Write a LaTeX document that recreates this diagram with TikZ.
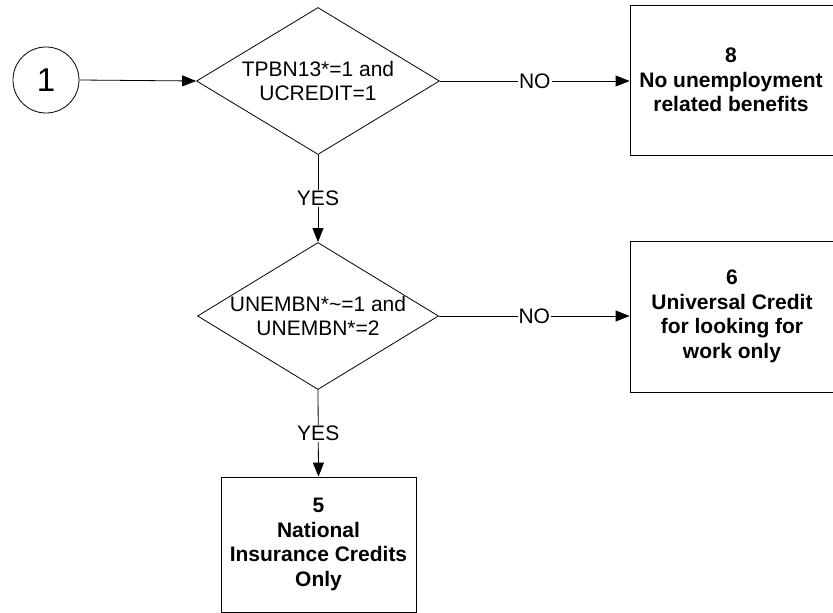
\documentclass[tikz,border=0pt]{standalone}
\usepackage{fontspec}
\setmainfont{Liberation Sans}
\usetikzlibrary{shapes.geometric,arrows.meta}
\begin{document}
\begin{tikzpicture}[x=1pt,y=-1pt,
  every node/.style={font=\fontsize{21}{24.5}\selectfont},
  conn/.style={line width=0.8pt,draw=black},
  arr/.style={conn,-{Triangle[length=14pt,width=11pt]}},
  dia/.style={shape=diamond,draw,line width=0.8pt,inner sep=0pt,minimum width=#1,minimum height=147pt},
  endbox/.style={draw,line width=0.8pt,align=center,font=\bfseries\fontsize{21}{24.5}\selectfont},
  endtext/.style={align=center,font=\bfseries\fontsize{21}{24.5}\selectfont},
  lab/.style={fill=white,inner sep=1pt}
]
\useasboundingbox (0,0) rectangle (833,613);
\clip (0,0) rectangle (833,613);
\node[circle,draw,line width=0.8pt,minimum size=66pt,inner sep=0pt,font=\fontsize{33}{33}\selectfont] (c1) at (46,80) {1};
\node[dia=243pt] (d1) at (318,81) {};
\node[align=center] (t1) at (d1.center) {TPBN13*=1 and\\UCREDIT=1};
\node[dia=241pt] (d2) at (318,316) {};
\node[align=center] (t2) at (d2.center) {UNEMBN*\textasciitilde=1 and\\UNEMBN*=2};
\node[endbox,minimum width=240pt,minimum height=150pt] (b8) at (750,80) {};
\node[endtext] (t8) at (731,80) {8\\No unemployment\\related benefits};
\node[endbox,minimum width=240pt,minimum height=151pt] (b6) at (750,316.5) {};
\node[endtext] (t6) at (732,316.5) {6\\Universal Credit\\for looking for\\work only};
\node[endbox,minimum width=195pt,minimum height=135pt] (b5) at (318.5,544.5) {5\\National\\Insurance Credits\\Only};
\draw[arr] (c1.east) -- (d1.west);
\draw[arr] (d1.east) -- node[lab] (no1) {NO} (b8.west |- d1.east);
\draw[arr] (d1.south) -- node[lab] (yes1) {YES} (d2.north);
\draw[arr] (d2.east) -- node[lab] (no2) {NO} (b6.west |- d2.east);
\draw[arr] (d2.south) -- node[lab] (yes2) {YES} (b5.north);
\end{tikzpicture}
\end{document}
